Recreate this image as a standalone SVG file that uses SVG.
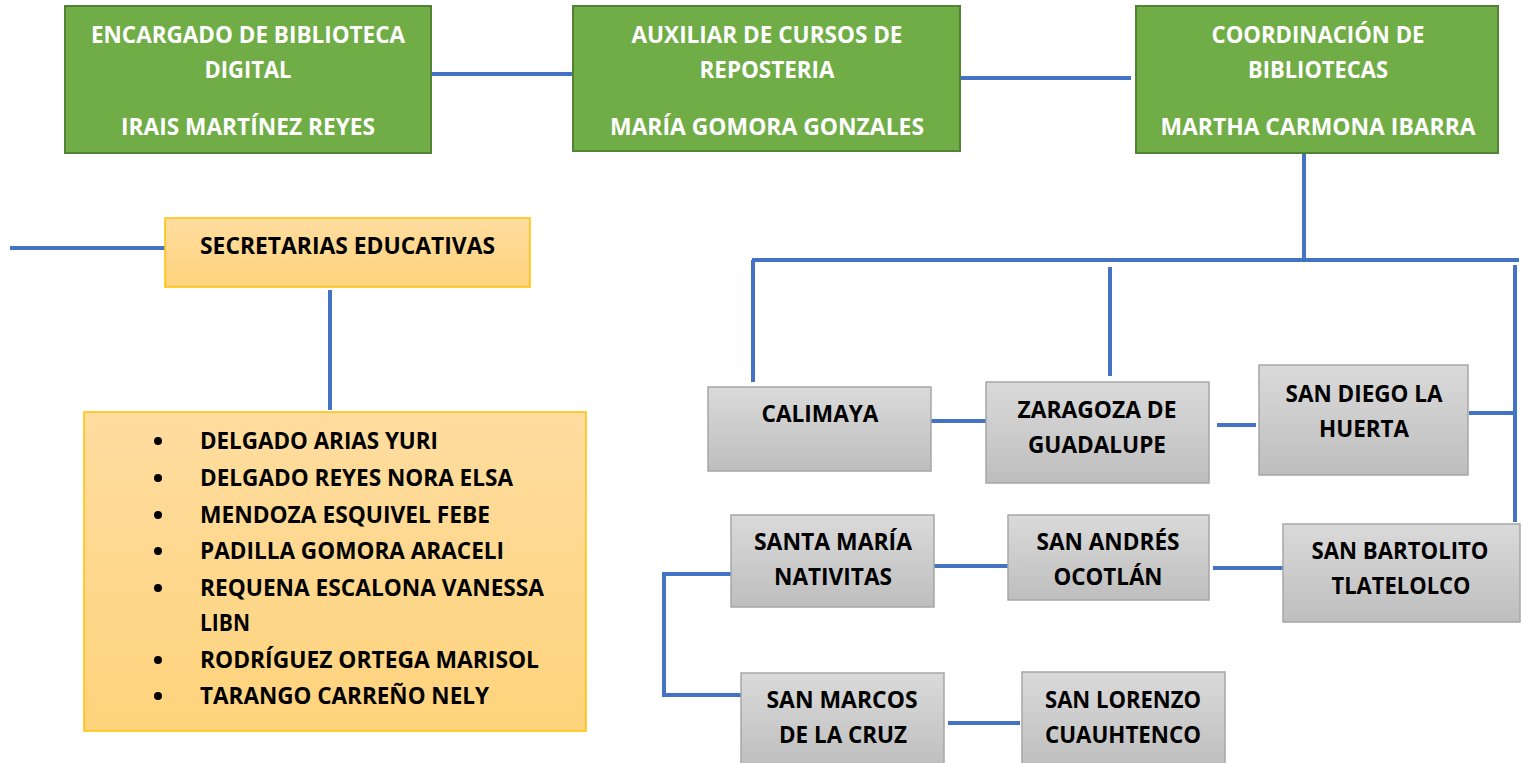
<svg xmlns="http://www.w3.org/2000/svg" width="1523" height="763" viewBox="0 0 1523 763">
<style>
.green rect{fill:#70AD47;stroke:#548235;stroke-width:2}
.gray rect{fill:url(#gg);stroke:#A6A6A6;stroke-width:1.5}
.orange rect{fill:url(#og);stroke:#FFC000;stroke-width:1.5}
text{font-family:"Open Sans","Liberation Sans",sans-serif;font-weight:bold;font-size:23px}
.green text{fill:#FFFFFF;text-anchor:middle}
.gray text{fill:#000000;text-anchor:middle}
.orange text{fill:#000000}
#connectors path{fill:none;stroke:#4472C4;stroke-width:4}
</style>
<defs>
<linearGradient id="gg" x1="0" y1="0" x2="0" y2="1"><stop offset="0" stop-color="#DADADA"/><stop offset="1" stop-color="#BEBEBE"/></linearGradient>
<linearGradient id="og" x1="0" y1="0" x2="0" y2="1"><stop offset="0" stop-color="#FFDDA0"/><stop offset="1" stop-color="#FFD37C"/></linearGradient>
</defs>
<rect width="1523" height="763" fill="#FFFFFF"/>
<g id="connectors">
<path d="M431 74H573"/>
<path d="M960 78H1131"/>
<path d="M1304 153V259"/>
<path d="M752 260H1519"/>
<path d="M753 260V382"/>
<path d="M1110 267V376"/>
<path d="M1515 265V522"/>
<path d="M1469 413H1515"/>
<path d="M931 421H986"/>
<path d="M1217 425H1256"/>
<path d="M934 566H1008"/>
<path d="M1213 568H1283"/>
<path d="M731 574H664V695H741"/>
<path d="M948 723H1020"/>
<path d="M10 248H165"/>
<path d="M330 290V410"/>
</g>
<g id="n-encargado" class="green">
<rect x="65" y="6" width="366" height="147"/>
<text x="248" y="43" textLength="314" lengthAdjust="spacingAndGlyphs">ENCARGADO DE BIBLIOTECA</text>
<text x="248" y="78" textLength="87" lengthAdjust="spacingAndGlyphs">DIGITAL</text>
<text x="248" y="135" textLength="254" lengthAdjust="spacingAndGlyphs">IRAIS MARTÍNEZ REYES</text>
</g>
<g id="n-auxiliar" class="green">
<rect x="573" y="6" width="387" height="145"/>
<text x="767" y="43" textLength="271" lengthAdjust="spacingAndGlyphs">AUXILIAR DE CURSOS DE</text>
<text x="767" y="78" textLength="135" lengthAdjust="spacingAndGlyphs">REPOSTERIA</text>
<text x="767" y="135" textLength="314" lengthAdjust="spacingAndGlyphs">MARÍA GOMORA GONZALES</text>
</g>
<g id="n-coordinacion" class="green">
<rect x="1136" y="6" width="362" height="147"/>
<text x="1318" y="43" textLength="213" lengthAdjust="spacingAndGlyphs">COORDINACIÓN DE</text>
<text x="1318" y="78" textLength="140" lengthAdjust="spacingAndGlyphs">BIBLIOTECAS</text>
<text x="1318" y="135" textLength="315" lengthAdjust="spacingAndGlyphs">MARTHA CARMONA IBARRA</text>
</g>
<g id="n-secretarias" class="orange">
<rect x="165" y="218" width="365" height="69"/>
<text x="200" y="254" textLength="295" lengthAdjust="spacingAndGlyphs">SECRETARIAS EDUCATIVAS</text>
</g>
<g id="n-lista" class="orange">
<rect x="84" y="412" width="502" height="319"/>
<g fill="#000000">
<circle cx="158" cy="441" r="4"/><circle cx="158" cy="478" r="4"/><circle cx="158" cy="515" r="4"/><circle cx="158" cy="551" r="4"/><circle cx="158" cy="588" r="4"/><circle cx="158" cy="660" r="4"/><circle cx="158" cy="696" r="4"/>
</g>
<text x="200" y="449" textLength="238" lengthAdjust="spacingAndGlyphs">DELGADO ARIAS YURI</text>
<text x="200" y="486" textLength="313" lengthAdjust="spacingAndGlyphs">DELGADO REYES NORA ELSA</text>
<text x="200" y="523" textLength="290" lengthAdjust="spacingAndGlyphs">MENDOZA ESQUIVEL FEBE</text>
<text x="200" y="559" textLength="304" lengthAdjust="spacingAndGlyphs">PADILLA GOMORA ARACELI</text>
<text x="200" y="596" textLength="344" lengthAdjust="spacingAndGlyphs">REQUENA ESCALONA VANESSA</text>
<text x="200" y="631" textLength="50" lengthAdjust="spacingAndGlyphs">LIBN</text>
<text x="200" y="668" textLength="339" lengthAdjust="spacingAndGlyphs">RODRÍGUEZ ORTEGA MARISOL</text>
<text x="200" y="704" textLength="289" lengthAdjust="spacingAndGlyphs">TARANGO CARREÑO NELY</text>
</g>
<g id="n-calimaya" class="gray">
<rect x="708" y="387" width="223" height="84"/>
<text x="820" y="422" textLength="117" lengthAdjust="spacingAndGlyphs">CALIMAYA</text>
</g>
<g id="n-zaragoza" class="gray">
<rect x="986" y="382" width="223" height="101"/>
<text x="1097" y="418" textLength="159" lengthAdjust="spacingAndGlyphs">ZARAGOZA DE</text>
<text x="1097" y="453" textLength="138" lengthAdjust="spacingAndGlyphs">GUADALUPE</text>
</g>
<g id="n-sandiego" class="gray">
<rect x="1259" y="365" width="209" height="110"/>
<text x="1364" y="402" textLength="157" lengthAdjust="spacingAndGlyphs">SAN DIEGO LA</text>
<text x="1364" y="437" textLength="90" lengthAdjust="spacingAndGlyphs">HUERTA</text>
</g>
<g id="n-santamaria" class="gray">
<rect x="731" y="515" width="203" height="92"/>
<text x="833" y="550" textLength="158" lengthAdjust="spacingAndGlyphs">SANTA MARÍA</text>
<text x="833" y="585" textLength="118" lengthAdjust="spacingAndGlyphs">NATIVITAS</text>
</g>
<g id="n-sanandres" class="gray">
<rect x="1008" y="515" width="201" height="85"/>
<text x="1108" y="550" textLength="143" lengthAdjust="spacingAndGlyphs">SAN ANDRÉS</text>
<text x="1108" y="585" textLength="109" lengthAdjust="spacingAndGlyphs">OCOTLÁN</text>
</g>
<g id="n-sanbartolito" class="gray">
<rect x="1283" y="524" width="237" height="98"/>
<text x="1400" y="559" textLength="177" lengthAdjust="spacingAndGlyphs">SAN BARTOLITO</text>
<text x="1401" y="594" textLength="139" lengthAdjust="spacingAndGlyphs">TLATELOLCO</text>
</g>
<g id="n-sanmarcos" class="gray">
<rect x="741" y="673" width="203" height="95"/>
<text x="842" y="708" textLength="151" lengthAdjust="spacingAndGlyphs">SAN MARCOS</text>
<text x="843" y="743" textLength="128" lengthAdjust="spacingAndGlyphs">DE LA CRUZ</text>
</g>
<g id="n-sanlorenzo" class="gray">
<rect x="1022" y="672" width="203" height="96"/>
<text x="1123" y="708" textLength="156" lengthAdjust="spacingAndGlyphs">SAN LORENZO</text>
<text x="1123" y="743" textLength="156" lengthAdjust="spacingAndGlyphs">CUAUHTENCO</text>
</g>
</svg>
